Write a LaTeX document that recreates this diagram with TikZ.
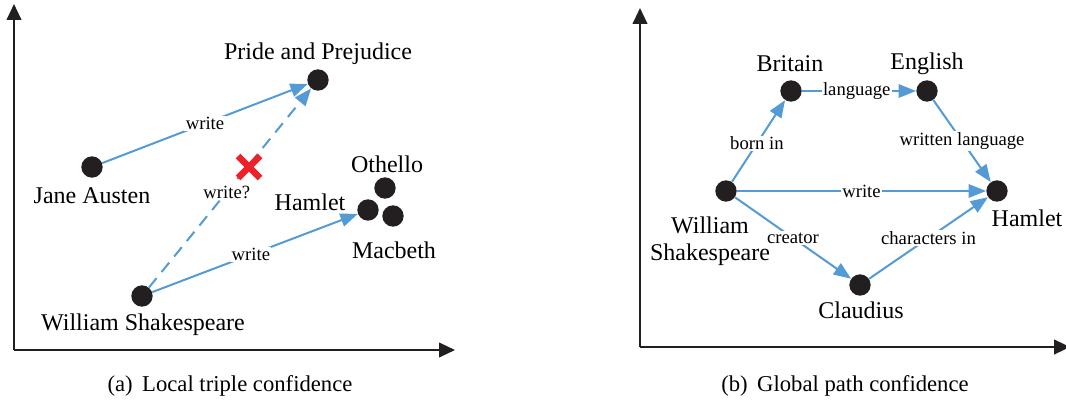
\documentclass[tikz,border=0pt]{standalone}
\usepackage{fontspec}
\setmainfont{Liberation Serif}
\newfontfamily\timesfont{Liberation Serif}
\usetikzlibrary{arrows.meta, calc}

\definecolor{linkblue}{RGB}{84,155,214}
\definecolor{crossred}{RGB}{236,34,40}
\definecolor{axisblack}{RGB}{35,31,32}

\tikzset{
	dot/.style={circle, fill=axisblack, inner sep=0pt, minimum size=16pt},
	entity/.style={font=\timesfont\fontsize{18}{20}\selectfont, inner sep=1pt},
	rel/.style={font=\timesfont\fontsize{14}{16}\selectfont, fill=white, inner sep=1pt},
	link/.style={draw=linkblue, line width=1.5pt, -{Triangle[length=13pt, width=10pt]}},
	axisline/.style={draw=axisblack, line width=1.5pt, -{Triangle[length=12pt, width=11pt]}}
}

\begin{document}
\begin{tikzpicture}[x=0.75pt, y=-0.75pt]
	\useasboundingbox (0,0) rectangle (1066,410);

	% Draw axes of the left panel
	\coordinate (a origin) at (14,350);
	\coordinate (a ytip) at (14,4);
	\coordinate (a xtip) at (455,350);
	\draw[axisline] (a origin) -- (a ytip);
	\draw[axisline] (a origin) -- (a xtip);

	% Draw entities of the left panel
	\node[dot] (pp) at (318,80) {};
	\node[dot] (ja) at (92,167) {};
	\node[dot] (ws) at (142,296) {};
	\node[dot] (ham) at (368,210) {};
	\node[dot] (oth) at (385,188) {};
	\node[dot] (mac) at (393,216) {};
	\node[entity] (pp label) at (318,54) {Pride and Prejudice};
	\node[entity] (ja label) at (92,196) {Jane Austen};
	\node[entity] (ws label) at (143,325) {William Shakespeare};
	\node[entity] (oth label) at (387,164) {Othello};
	\node[entity] (ham label) at (310,202) {Hamlet};
	\node[entity] (mac label) at (394,250) {Macbeth};

	% Draw triples of the left panel
	\draw[link] (ja) -- node[rel] {write} (pp);
	\draw[link] (ws) -- node[rel, pos=0.48] {write} (ham);
	\draw[link, dash pattern=on 9pt off 6pt] (ws) -- node[rel, pos=0.48] (wq) {write?} (pp);

	% Draw red cross on the doubtful triple
	\coordinate (X) at (249,167);
	\draw[crossred, line width=5pt] ($(X)+(-11,-11)$) -- ($(X)+(11,11)$);
	\draw[crossred, line width=5pt] ($(X)+(-11,11)$) -- ($(X)+(11,-11)$);

	% Draw axes of the right panel
	\coordinate (b origin) at (640,347);
	\coordinate (b ytip) at (640,8);
	\coordinate (b xtip) at (1070,347);
	\draw[axisline] (b origin) -- (b ytip);
	\draw[axisline] (b origin) -- (b xtip);

	% Draw entities of the right panel
	\node[dot] (bri) at (791,91) {};
	\node[dot] (eng) at (927,91) {};
	\node[dot] (shk) at (726,191) {};
	\node[dot] (hml) at (997,191) {};
	\node[dot] (cla) at (860,285) {};
	\node[entity] (bri label) at (790,64) {Britain};
	\node[entity] (eng label) at (927,64) {English};
	\node[entity, align=center] (shk label) at (710,241) {William\\Shakespeare};
	\node[entity] (hml label) at (1027,218) {Hamlet};
	\node[entity] (cla label) at (861,310) {Claudius};

	% Draw paths of the right panel
	\draw[link] (shk) -- node[rel, pos=0.47] {born in} (bri);
	\draw[link] (bri) -- node[rel, pos=0.48] {language} (eng);
	\draw[link] (eng) -- node[rel, pos=0.5] {written language} (hml);
	\draw[link] (shk) -- node[rel, pos=0.5] {write} (hml);
	\draw[link] (shk) -- node[rel, pos=0.5] {creator} (cla);
	\draw[link] (cla) -- node[rel, pos=0.5] {characters in} (hml);

	% Draw captions
	\node[font=\timesfont\fontsize{17}{19}\selectfont] (cap a) at (230,386) {(a)\, Local triple confidence};
	\node[font=\timesfont\fontsize{17}{19}\selectfont] (cap b) at (845,386) {(b)\, Global path confidence};
\end{tikzpicture}
\end{document}
